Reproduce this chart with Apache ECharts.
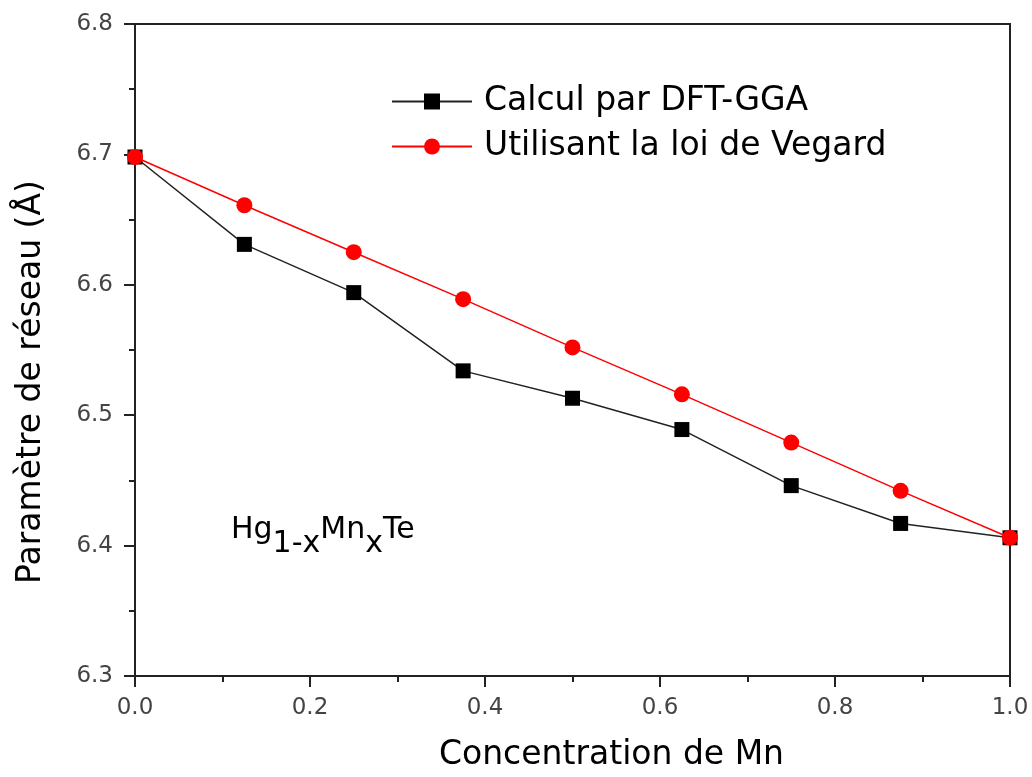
<!DOCTYPE html>
<html>
<head>
<meta charset="utf-8">
<script src="https://cdn.jsdelivr.net/npm/echarts@6/dist/echarts.min.js"></script>
<style>html,body{margin:0;padding:0;background:#fff;}#c{width:1032px;height:777px;}</style>
</head>
<body>
<div id="c"></div>
<script>
const xValues = [0, 0.125, 0.25, 0.375, 0.5, 0.625, 0.75, 0.875, 1.0];
const dftGGA = [6.698, 6.631, 6.594, 6.534, 6.513, 6.489, 6.446, 6.417, 6.406];
const vegard = [6.698, 6.661, 6.625, 6.589, 6.552, 6.516, 6.479, 6.442, 6.406];
const seriesNames = ['Calcul par DFT-GGA', 'Utilisant la loi de Vegard'];
const xTitle = 'Concentration de Mn';
const yTitle = 'Paramètre de réseau (Å)';

const font = 'DejaVu Sans, Liberation Sans, Arial, sans-serif';
const chart = echarts.init(document.getElementById('c'));
const axisCommon = {
  axisLine: {show: true, onZero: false, lineStyle: {color: '#222', width: 2}},
  axisTick: {show: true, inside: false, length: 11, lineStyle: {color: '#222', width: 2}},
  minorTick: {show: true, splitNumber: 2, length: 6, lineStyle: {color: '#222', width: 2}},
  splitLine: {show: false},
  axisLabel: {color: '#444', fontFamily: font, fontSize: 23, margin: 21},
  nameTextStyle: {color: '#000', fontFamily: font, fontSize: 33}
};
chart.setOption({
  animation: false,
  backgroundColor: '#fff',
  grid: {left: 135, top: 24, right: 22, bottom: 100, show: true, borderColor: '#222', borderWidth: 2},
  legend: {
    data: seriesNames,
    orient: 'vertical',
    left: 386, top: 80,
    itemWidth: 80, itemHeight: 20, itemGap: 12,
    textStyle: {fontFamily: font, fontSize: 33, color: '#000', padding: [0, 0, 0, 7]}
  },
  xAxis: Object.assign({}, axisCommon, {
    type: 'value', min: 0, max: 1, interval: 0.2,
    name: xTitle, nameLocation: 'middle', nameGap: 63,
    nameTextStyle: Object.assign({}, axisCommon.nameTextStyle, {padding: [0, 0, 0, 78]}),
    axisLabel: Object.assign({}, axisCommon.axisLabel, {formatter: v => v.toFixed(1)})
  }),
  yAxis: Object.assign({}, axisCommon, {
    type: 'value', min: 6.3, max: 6.8, interval: 0.1,
    name: yTitle, nameLocation: 'middle', nameGap: 87,
    nameTextStyle: Object.assign({}, axisCommon.nameTextStyle, {padding: [0, 64, 0, 0]}),
    axisLabel: Object.assign({}, axisCommon.axisLabel, {margin: 22, formatter: v => v.toFixed(1)})
  }),
  graphic: [{
    type: 'text', left: 231, top: 515,
    style: {
      text: '{n|Hg}{s|1-x}{n|Mn}{s|x}{n|Te}',
      rich: {
        n: {fontFamily: font, fontSize: 30, color: '#000', verticalAlign: 'top', lineHeight: 30},
        s: {fontFamily: font, fontSize: 30, color: '#000', verticalAlign: 'top', lineHeight: 30, padding: [14, 0, 0, 0]}
      }
    }
  }],
  series: [
    {
      name: seriesNames[0], type: 'line',
      data: xValues.map((x, i) => [x, dftGGA[i]]),
      symbol: 'rect', symbolSize: 15,
      itemStyle: {color: '#000'},
      lineStyle: {color: '#222', width: 1.5},
      z: 2
    },
    {
      name: seriesNames[1], type: 'line',
      data: xValues.map((x, i) => [x, vegard[i]]),
      symbol: 'circle', symbolSize: 16,
      itemStyle: {color: '#ff0000'},
      lineStyle: {color: '#ff0000', width: 1.5},
      z: 3
    }
  ]
});
</script>
</body>
</html>
